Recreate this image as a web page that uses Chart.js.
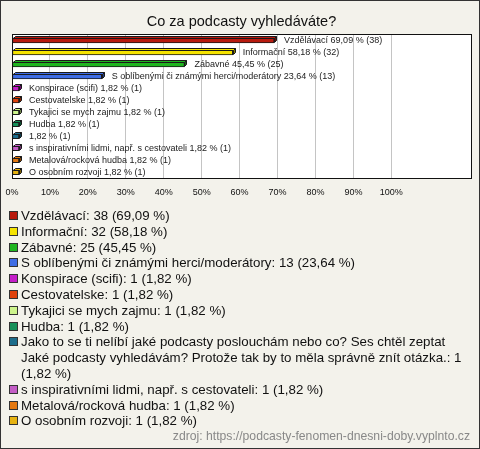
<!DOCTYPE html>
<html>
<head>
<meta charset="utf-8">
<script src="https://cdn.jsdelivr.net/npm/chart.js"></script>
<style>
    body { margin: 0; }
    #box {
        position: relative;
        width: 480px;
        height: 449px;
        box-sizing: border-box;
        border: 1px solid #333;
        background: #f3f2eb;
        font-family: "Liberation Sans", Arial, sans-serif;
        color: #111;
        overflow: hidden;
    }
    #chart { position: absolute; left: -1px; top: -1px; }
    #legend {
        position: absolute;
        left: 6px;
        top: 207px;
        width: 470px;
        font-size: 13.3px;
        line-height: 15.8px;
    }
    .item { display: flex; align-items: flex-start; }
    .sw {
        flex: none;
        width: 7px;
        height: 7px;
        border: 1px solid #333;
        margin: 3px 3px 0 2px;
    }
    .txt { width: 450px; }
    #source {
        position: absolute;
        right: 9px;
        top: 428px;
        font-size: 12.2px;
        color: #888;
    }
</style>
</head>
<body>
<div id="box">
    <canvas id="chart" width="480" height="211"></canvas>
    <div id="legend"></div>
    <div id="source">zdroj: https://podcasty-fenomen-dnesni-doby.vyplnto.cz</div>
</div>
<script>
// ===================================================================
// data
var categories = [
    'Vzdělávací',
    'Informační',
    'Zábavné',
    'S oblíbenými či známými herci/moderátory',
    'Konspirace (scifi)',
    'Cestovatelske',
    'Tykajici se mych zajmu',
    'Hudba',
    'Jako to se ti nelíbí jaké podcasty poslouchám nebo co? Ses chtěl zeptat Jaké podcasty vyhledávám? Protože tak by to měla správně znít otázka.',
    's inspirativními lidmi, např. s cestovateli',
    'Metalová/rocková hudba',
    'O osobním rozvoji'
];
// v grafu je u dlouhe odpovedi jmeno prazdne
var barNames = [
    'Vzdělávací', 'Informační', 'Zábavné', 'S oblíbenými či známými herci/moderátory',
    'Konspirace (scifi)', 'Cestovatelske', 'Tykajici se mych zajmu', 'Hudba',
    '', 's inspirativními lidmi, např. s cestovateli', 'Metalová/rocková hudba', 'O osobním rozvoji'
];
var counts = [38, 32, 25, 13, 1, 1, 1, 1, 1, 1, 1, 1];
var percents = [69.09, 58.18, 45.45, 23.64, 1.82, 1.82, 1.82, 1.82, 1.82, 1.82, 1.82, 1.82];
var colors = [
    '#b81a0e', '#f5e300', '#1fb51f', '#3f6de4', '#c41ec8', '#df420c',
    '#cdf48c', '#17915a', '#1d6d8b', '#c45ec6', '#e5780f', '#e6b312'
];
var tickMax = 100;

function fmt(v) {
    return v.toFixed(2).replace('.', ',');
}

// tmavsi odstin barvy
function darker(hex, k) {
    var n = parseInt(hex.slice(1), 16);
    var r = Math.round(((n >> 16) & 255) * k), g = Math.round(((n >> 8) & 255) * k), b = Math.round((n & 255) * k);
    return 'rgb(' + r + ',' + g + ',' + b + ')';
}

document.addEventListener('DOMContentLoaded', function() {

    // ===================================================================
    // bila plocha grafu + ramecek
    var plotArea = {
        id: 'plotArea',
        beforeDraw: function(chart) {
            var a = chart.chartArea, ctx = chart.ctx;
            ctx.save();
            ctx.fillStyle = '#ffffff';
            ctx.fillRect(a.left, a.top, a.right - a.left, a.bottom - a.top);
            ctx.restore();
        },
        afterDraw: function(chart) {
            var a = chart.chartArea, ctx = chart.ctx;
            ctx.save();
            ctx.strokeStyle = '#111';
            ctx.lineWidth = 1;
            ctx.strokeRect(Math.round(a.left) + 0.5, Math.round(a.top) + 0.5,
                Math.round(a.right - a.left), Math.round(a.bottom - a.top));
            ctx.restore();
        }
    };

    // ===================================================================
    // 3D hrana sloupcu + popisky za sloupci
    var barText = {
        id: 'barText',
        afterDatasetsDraw: function(chart) {
            var ctx = chart.ctx;
            var meta = chart.getDatasetMeta(0);
            var d = 2;
            ctx.save();
            meta.data.forEach(function(bar, i) {
                var l = Math.round(bar.base) + 0.5, r = Math.round(bar.x) + 0.5;
                var t = Math.round(bar.y - bar.height / 2) + 0.5, b = Math.round(bar.y + bar.height / 2) - 0.5;
                ctx.lineWidth = 1;
                ctx.strokeStyle = '#1a1a1a';
                // horni plocha
                ctx.beginPath();
                ctx.moveTo(l, t);
                ctx.lineTo(l + d, t - d);
                ctx.lineTo(r + d, t - d);
                ctx.lineTo(r, t);
                ctx.closePath();
                ctx.fillStyle = colors[i];
                ctx.fill();
                ctx.stroke();
                // prava plocha
                ctx.beginPath();
                ctx.moveTo(r, t);
                ctx.lineTo(r + d, t - d);
                ctx.lineTo(r + d, b - d);
                ctx.lineTo(r, b);
                ctx.closePath();
                ctx.fillStyle = darker(colors[i], 0.55);
                ctx.fill();
                ctx.stroke();
            });
            ctx.font = '9px "Liberation Sans", Arial, sans-serif';
            ctx.fillStyle = '#222';
            ctx.textBaseline = 'middle';
            meta.data.forEach(function(bar, i) {
                var label = (barNames[i] ? barNames[i] + ' ' : '') + fmt(percents[i]) + ' % (' + counts[i] + ')';
                ctx.fillText(label, bar.x + 10, bar.y);
            });
            ctx.restore();
        }
    };

    var ctx = document.getElementById('chart').getContext('2d');
    new Chart(ctx, {
        type: 'bar',
        data: {
            labels: categories,
            datasets: [{
                data: percents,
                backgroundColor: colors,
                borderColor: '#1a1a1a',
                borderWidth: 1,
                borderSkipped: false,
                barThickness: 5
            }]
        },
        options: {
            indexAxis: 'y',
            responsive: false,
            animation: false,
            devicePixelRatio: 1,
            layout: { padding: { left: 12, right: 9, top: 0, bottom: 4 } },
            plugins: {
                legend: { display: false },
                tooltip: { enabled: false },
                title: {
                    display: true,
                    text: 'Co za podcasty vyhledáváte?',
                    color: '#111',
                    font: { family: '"Liberation Sans", Arial, sans-serif', size: 14.5, weight: 'normal' },
                    padding: { top: 13, bottom: 4 }
                }
            },
            scales: {
                x: {
                    min: 0,
                    max: 121,
                    afterBuildTicks: function(axis) {
                        axis.ticks = axis.ticks.filter(function(t) { return t.value <= tickMax && t.value % 10 === 0; });
                    },
                    afterFit: function(axis) {
                        axis.paddingLeft = 0;
                        axis.paddingRight = 0;
                    },
                    ticks: {
                        stepSize: 10,
                        padding: 9,
                        color: '#111',
                        maxRotation: 0,
                        autoSkip: false,
                        font: { family: '"Liberation Sans", Arial, sans-serif', size: 9 },
                        callback: function(v) { return v + '%'; }
                    },
                    grid: { color: '#c4c4c4', drawTicks: false },
                    border: { display: false }
                },
                y: { display: false }
            }
        },
        plugins: [plotArea, barText]
    });

    // ===================================================================
    // legenda pod grafem
    var legend = document.getElementById('legend');
    categories.forEach(function(name, i) {
        var item = document.createElement('div');
        item.className = 'item';
        var sw = document.createElement('span');
        sw.className = 'sw';
        sw.style.background = colors[i];
        var txt = document.createElement('span');
        txt.className = 'txt';
        txt.textContent = name + ': ' + counts[i] + ' (' + fmt(percents[i]) + ' %)';
        item.appendChild(sw);
        item.appendChild(txt);
        legend.appendChild(item);
    });
});
</script>
</body>
</html>
